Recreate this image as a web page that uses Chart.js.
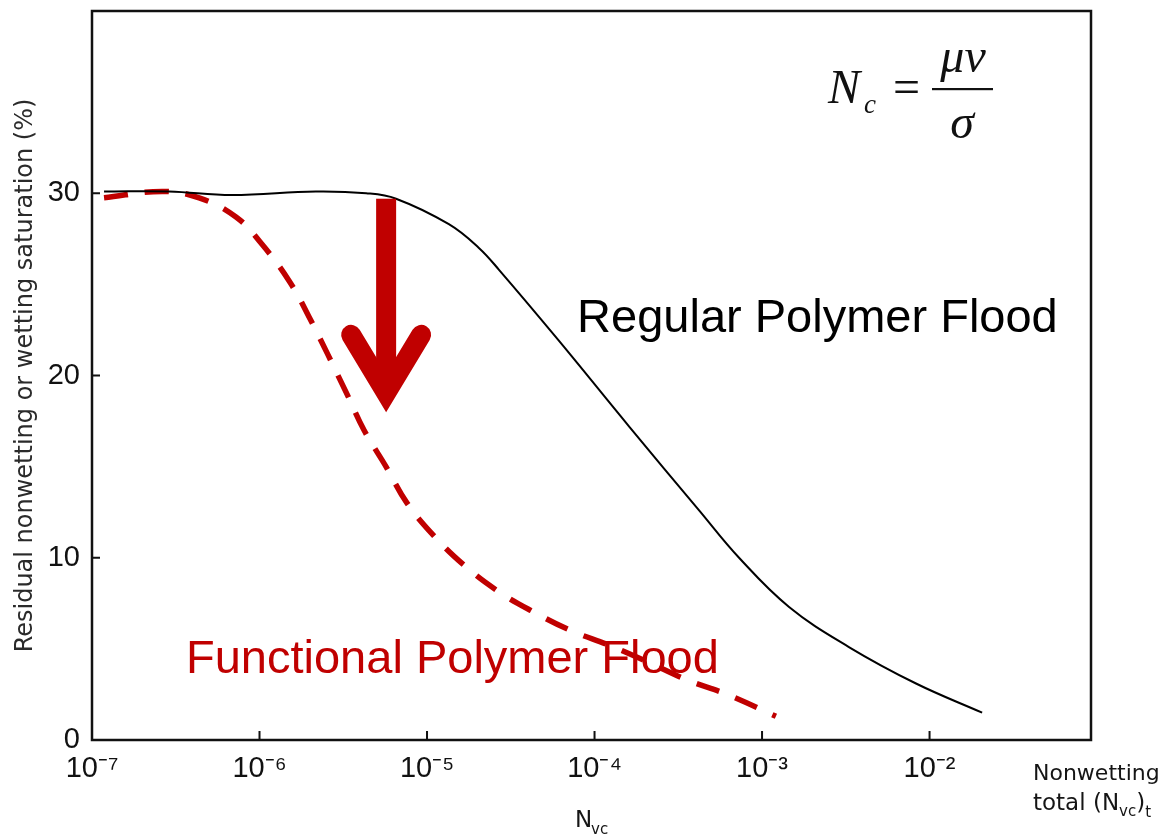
<!DOCTYPE html>
<html>
<head>
<meta charset="utf-8">
<script src="https://cdn.jsdelivr.net/npm/chart.js@4.4.1/dist/chart.umd.min.js"></script>
<style>
  html, body { margin: 0; padding: 0; background: #fff; }
  #wrap { width: 1163px; height: 835px; }
</style>
</head>
<body>
<div id="wrap"><canvas id="chart" width="1163" height="835"></canvas></div>
<script>
// capillary number N_vc (x) and residual saturation in % (y)
const regularNvc = [1.18e-7, 2.88e-7, 6.85e-7, 2.17e-6, 4.33e-6, 6.53e-6, 1.35e-5, 2.04e-5, 2.69e-5,
    6.14e-5, 1.61e-4, 4.21e-4, 7.29e-4, 1.45e-3, 3.30e-3, 8.30e-3, 2.06e-2];
const regularSat = [30.1, 30.1, 29.9, 30.1, 30.0, 29.7, 28.3, 27.0, 25.8,
    21.9, 17.2, 12.6, 10.0, 7.3, 5.1, 3.1, 1.5];

const functionalNvc = [1.18e-7, 2.62e-7, 4.36e-7, 7.24e-7, 1.035e-6, 1.50e-6, 1.98e-6, 3.28e-6, 4.21e-6,
    5.69e-6, 7.60e-6, 1.10e-5, 1.66e-5, 2.62e-5, 4.18e-5, 7.24e-5, 1.22e-4, 2.06e-4, 3.56e-4, 6.18e-4, 1.21e-3];
const functionalSat = [29.75, 30.1, 29.75, 28.7, 27.2, 25.2, 23.2, 19.1, 17.0,
    15.0, 13.0, 11.2, 9.6, 8.2, 7.1, 6.0, 5.2, 4.3, 3.3, 2.5, 1.3];

const xTickValues = [1e-7, 1e-6, 1e-5, 1e-4, 1e-3, 1e-2];
const xTickLabels = ['10⁻⁷', '10⁻⁶', '10⁻⁵', '10⁻⁴', '10⁻³', '10⁻²'];
const yTickValues = [0, 10, 20, 30];
const yTickLabels = ['0', '10', '20', '30'];

// annotation anchors (data coordinates)
const regularTextAt = { x: 7.87e-5, y: 22.4 };
const functionalTextAt = { x: 3.64e-7, y: 3.67 };
const arrowAt = { x: 5.7e-6, from: 29.7, to: 17.95 };

const RED = '#c00000';
const tickFont = "'Liberation Sans', Arial, sans-serif";
const labelFont = "'DejaVu Sans', sans-serif";
const serif = "'Liberation Serif', 'Times New Roman', serif";

const decor = {
    id: 'decor',
    beforeDatasetsDraw(chart) {
        const { ctx, scales: { x, y } } = chart;
        ctx.save();
        ctx.font = "47px 'Liberation Sans', Arial, sans-serif";
        ctx.textBaseline = 'alphabetic';
        ctx.fillStyle = '#000';
        ctx.fillText('Regular Polymer Flood', x.getPixelForValue(regularTextAt.x), y.getPixelForValue(regularTextAt.y));
        ctx.fillStyle = RED;
        ctx.fillText('Functional Polymer Flood', x.getPixelForValue(functionalTextAt.x), y.getPixelForValue(functionalTextAt.y));
        ctx.restore();
    },
    afterDatasetsDraw(chart) {
        const { ctx, chartArea: a, scales: { x, y } } = chart;
        ctx.save();

        // frame + inward ticks
        ctx.strokeStyle = '#111';
        ctx.lineWidth = 2.5;
        ctx.strokeRect(a.left, a.top, a.right - a.left, a.bottom - a.top);
        ctx.lineWidth = 2;
        ctx.beginPath();
        yTickValues.forEach(v => {
            const py = y.getPixelForValue(v);
            ctx.moveTo(a.left, py); ctx.lineTo(a.left + 8, py);
        });
        xTickValues.forEach(v => {
            const px = x.getPixelForValue(v);
            ctx.moveTo(px, a.bottom); ctx.lineTo(px, a.bottom - 9);
        });
        ctx.stroke();

        // red arrow
        const ax = x.getPixelForValue(arrowAt.x);
        const top = y.getPixelForValue(arrowAt.from);
        const tip = y.getPixelForValue(arrowAt.to);
        ctx.fillStyle = RED;
        ctx.strokeStyle = RED;
        ctx.fillRect(ax - 10, top, 20, tip - top - 25);
        ctx.lineWidth = 20;
        ctx.lineCap = 'round';
        ctx.lineJoin = 'miter';
        ctx.miterLimit = 10;
        ctx.beginPath();
        ctx.moveTo(ax - 35, tip - 78);
        ctx.lineTo(ax, tip - 20);
        ctx.lineTo(ax + 35, tip - 78);
        ctx.stroke();

        // formula N_c = mu v / sigma
        ctx.fillStyle = '#111';
        ctx.textBaseline = 'alphabetic';
        const fx = a.right - 263, fy = a.top + 92;
        ctx.textAlign = 'left';
        ctx.font = `italic 48px ${serif}`;
        ctx.fillText('N', fx, fy);
        ctx.font = `italic 27px ${serif}`;
        ctx.fillText('c', fx + 36, fy + 10);
        ctx.font = `48px ${serif}`;
        ctx.fillText('=', fx + 65, fy);
        ctx.textAlign = 'center';
        ctx.font = `italic 48px ${serif}`;
        ctx.fillText('μv', fx + 135, fy - 31);
        ctx.fillRect(fx + 104, fy - 15, 61, 2.2);
        ctx.fillText('σ', fx + 134, fy + 35);
        ctx.restore();
    },
    afterDraw(chart) {
        const { ctx } = chart;
        ctx.save();
        ctx.fillStyle = '#151515';
        ctx.textBaseline = 'alphabetic';
        // x axis title N_vc
        ctx.font = `23px ${labelFont}`;
        ctx.fillText('N', 575, 827);
        ctx.font = `15px ${labelFont}`;
        ctx.fillText('vc', 591, 834);
        // right-hand label
        const lx = 1033;
        ctx.font = `22px ${labelFont}`;
        ctx.fillText('Nonwetting', lx, 780);
        let px = lx;
        const part = (t, size, dy) => {
            ctx.font = `${size}px ${labelFont}`;
            ctx.fillText(t, px, 810 + dy);
            px += ctx.measureText(t).width;
        };
        part('total (', 23, 0);
        part('N', 23, 0);
        part('vc', 15, 6);
        part(')', 23, 0);
        part('t', 15, 7);
        ctx.restore();
    }
};

const toPoints = (xs, ys) => xs.map((v, i) => ({ x: v, y: ys[i] }));

new Chart(document.getElementById('chart').getContext('2d'), {
    type: 'line',
    data: {
        datasets: [
            {
                label: 'Regular Polymer Flood',
                data: toPoints(regularNvc, regularSat),
                borderColor: '#000',
                borderWidth: 2,
                pointRadius: 0,
                tension: 0.4,
                fill: false
            },
            {
                label: 'Functional Polymer Flood',
                data: toPoints(functionalNvc, functionalSat),
                borderColor: RED,
                borderWidth: 5.5,
                borderDash: [24, 17],
                pointRadius: 0,
                tension: 0.4,
                fill: false
            }
        ]
    },
    options: {
        responsive: false,
        animation: false,
        layout: { padding: { top: 11, right: 72, left: 0, bottom: 0 } },
        plugins: { legend: { display: false }, tooltip: { enabled: false } },
        scales: {
            x: {
                type: 'logarithmic',
                min: 1e-7,
                max: 0.092,
                afterBuildTicks: s => { s.ticks = xTickValues.map(v => ({ value: v })); },
                afterFit: s => { s.height = 95; s.paddingLeft = 0; s.paddingRight = 0; },
                grid: { display: false, drawTicks: false },
                border: { display: false },
                ticks: {
                    padding: 12,
                    autoSkip: false,
                    maxRotation: 0,
                    color: '#111',
                    font: { family: tickFont, size: 29 },
                    callback: (v, i) => xTickLabels[i]
                }
            },
            y: {
                min: 0,
                max: 40,
                afterBuildTicks: s => { s.ticks = yTickValues.map(v => ({ value: v })); },
                // fixed axis width; drop the label overhang so the plot reaches the top
                afterFit: s => { s.width = 92; s.paddingTop = 0; s.paddingBottom = 0; },
                grid: { display: false, drawTicks: false },
                border: { display: false },
                ticks: {
                    padding: 12,
                    color: '#111',
                    font: { family: tickFont, size: 29 },
                    callback: (v, i) => yTickLabels[i]
                },
                title: {
                    display: true,
                    text: 'Residual nonwetting or wetting saturation (%)',
                    color: '#2a2a2a',
                    font: { family: labelFont, size: 24 },
                    padding: { top: 11, bottom: 0 }
                }
            }
        }
    },
    plugins: [decor]
});
</script>
</body>
</html>
